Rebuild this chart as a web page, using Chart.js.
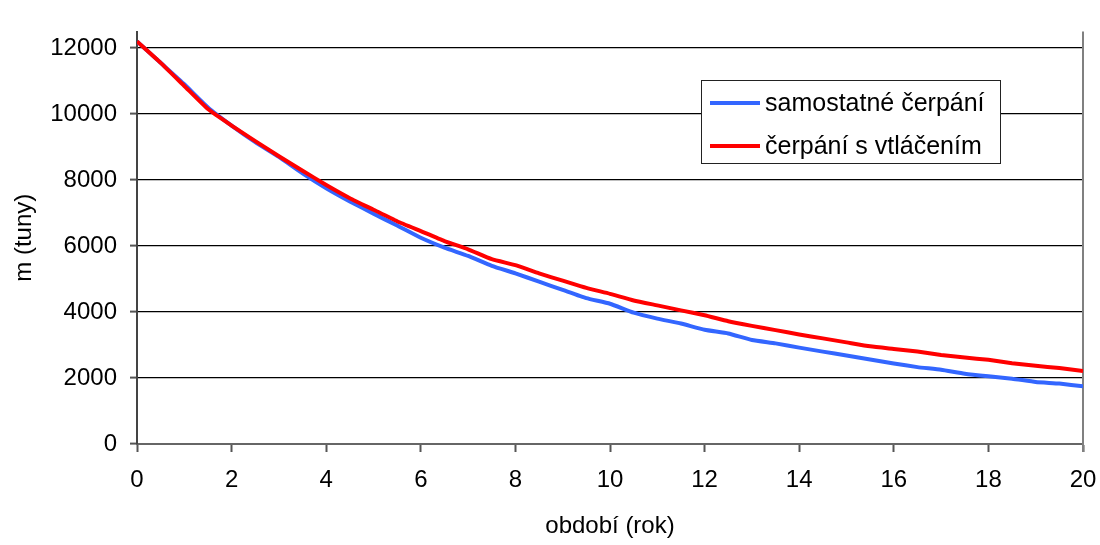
<!DOCTYPE html>
<html>
<head>
<meta charset="utf-8">
<script src="https://cdn.jsdelivr.net/npm/chart.js@4/dist/chart.umd.min.js"></script>
<style>
  html, body { margin: 0; padding: 0; background: #fff; }
  canvas { display: block; }
</style>
</head>
<body>
<canvas id="c" width="1100" height="545"></canvas>
<script>
// ---- data ----
const years = [0,0.5,1,1.5,2,2.5,3,3.5,4,4.5,5,5.5,6,6.5,7,7.5,8,8.5,9,9.5,10,
               10.5,11,11.5,12,12.5,13,13.5,14,14.5,15,15.5,16,16.5,17,17.5,18,18.5,19,19.5,20];
const samostatne = [12200,11550,10900,10200,9650,9150,8700,8200,7750,7350,6980,
                    6620,6250,5950,5700,5400,5170,4920,4670,4420,4250,
                    3980,3800,3650,3460,3350,3150,3050,2920,2800,2680,
                    2560,2440,2330,2250,2130,2050,1980,1880,1830,1750];
const vtlacenim = [12200,11550,10850,10150,9650,9180,8720,8280,7850,7450,7100,
                   6750,6450,6150,5900,5600,5420,5170,4950,4730,4550,
                   4350,4200,4050,3900,3720,3580,3450,3320,3200,3080,
                   2960,2880,2800,2700,2620,2550,2450,2370,2300,2210];
const seriesNames = ['samostatné čerpání', 'čerpání s vtláčením'];
const xTicks = [0,2,4,6,8,10,12,14,16,18,20];
const yTicks = [0,2000,4000,6000,8000,10000,12000];
const xTitle = 'období (rok)';
const yTitle = 'm (tuny)';

const FONT = "'Liberation Sans', Arial, sans-serif";
const BLUE = '#3366FF';
const RED = '#FF0000';

const toPoints = (xs, ys) => xs.map((x, i) => ({ x: x, y: ys[i] }));

const legendBox = {
  id: 'legendBox',
  afterDraw(chart) {
    const ctx = chart.ctx;
    const x0 = 701, y0 = 80, w = 299, h = 83;
    ctx.save();
    ctx.fillStyle = '#fff';
    ctx.fillRect(x0, y0, w, h);
    ctx.strokeStyle = '#222';
    ctx.lineWidth = 1;
    ctx.strokeRect(x0 + 0.5, y0 + 0.5, w, h);
    const rows = [103, 146];
    const ds = chart.data.datasets;
    ctx.font = "25px " + FONT;
    ctx.textBaseline = 'middle';
    ctx.textAlign = 'left';
    [ds[0], ds[1]].forEach((d, i) => {
      ctx.strokeStyle = d.borderColor;
      ctx.lineWidth = 4;
      ctx.beginPath();
      ctx.moveTo(710, rows[i]);
      ctx.lineTo(760, rows[i]);
      ctx.stroke();
      ctx.fillStyle = '#000';
      ctx.fillText(d.label, 765, rows[i] + 1);
    });
    ctx.restore();
  }
};

const rightBorder = {
  id: 'rightBorder',
  beforeDatasetsDraw(chart) {
    const a = chart.chartArea;
    const ctx = chart.ctx;
    ctx.save();
    ctx.strokeStyle = '#808080';
    ctx.lineWidth = 2;
    ctx.beginPath();
    ctx.moveTo(a.right, a.top);
    ctx.lineTo(a.right, a.bottom + 8);
    ctx.stroke();
    ctx.restore();
  }
};

new Chart(document.getElementById('c'), {
  type: 'line',
  data: {
    datasets: [
      { label: seriesNames[0], data: toPoints(years, samostatne), borderColor: BLUE,
        backgroundColor: BLUE, borderWidth: 4, pointRadius: 0, tension: 0.15, order: 2 },
      { label: seriesNames[1], data: toPoints(years, vtlacenim), borderColor: RED,
        backgroundColor: RED, borderWidth: 4, pointRadius: 0, tension: 0.15, order: 1 }
    ]
  },
  options: {
    responsive: false,
    animation: false,
    layout: { padding: { left: 0, right: 17, top: 31.5, bottom: 0 } },
    plugins: { legend: { display: false }, tooltip: { enabled: false } },
    scales: {
      x: {
        type: 'linear', min: 0, max: 20,
        afterBuildTicks(s) { s.ticks = xTicks.map(v => ({ value: v })); },
        afterFit(s) { s.height = 101; s.paddingLeft = 0; s.paddingRight = 0; },
        ticks: { color: '#000', font: { family: FONT, size: 24 }, padding: 14, maxRotation: 0,
                 autoSkip: false, callback: v => String(v) },
        grid: { drawOnChartArea: false, tickLength: 8, tickColor: '#555', tickWidth: 2 },
        border: { color: '#666', width: 2 },
        title: { display: true, text: xTitle, color: '#000', font: { family: FONT, size: 24 }, padding: { bottom: 4 } }
      },
      y: {
        min: 0, max: 12500,
        afterBuildTicks(s) { s.ticks = yTicks.map(v => ({ value: v })); },
        afterFit(s) { s.width = 137; s.paddingTop = 0; s.paddingBottom = 0; },
        ticks: { color: '#000', font: { family: FONT, size: 24 }, padding: 13,
                 autoSkip: false, callback: v => String(v) },
        grid: { color: '#000', lineWidth: 1.2, tickLength: 7, tickColor: '#555', tickWidth: 2 },
        border: { color: '#444', width: 2 },
        title: { display: true, text: yTitle, color: '#000', font: { family: FONT, size: 24 }, padding: { top: 10 } }
      }
    }
  },
  plugins: [rightBorder, legendBox]
});
</script>
</body>
</html>
